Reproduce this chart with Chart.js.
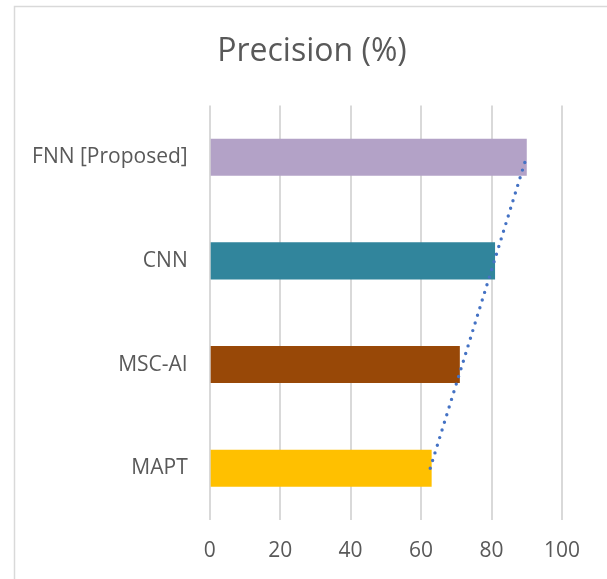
<!DOCTYPE html>
<html>
<head>
<meta charset="utf-8">
<script src="https://cdn.jsdelivr.net/npm/chart.js@4"></script>
<style>
  html, body { margin: 0; padding: 0; background: #fff; }
  canvas { display: block; }
</style>
</head>
<body>
<canvas id="precision-chart" width="607" height="579"></canvas>
<script>
const categories = ["FNN [Proposed]", "CNN", "MSC-AI", "MAPT"];
const precision = [90, 81, 71, 63];
const barColors = ["#b3a2c7", "#31859c", "#984807", "#ffc000"];
// linear trendline, ends (MAPT -> FNN)
const trendLabels = ["MAPT", "FNN [Proposed]"];
const trendValues = [62.6, 89.9];
const xTicks = [0, 20, 40, 60, 80, 100];

const frame = {
  id: "frame",
  beforeDraw(chart) {
    const ctx = chart.ctx;
    ctx.save();
    ctx.fillStyle = "#fff";
    ctx.fillRect(0, 0, chart.width, chart.height);
    ctx.strokeStyle = "#d9d9d9";
    ctx.lineWidth = 1.5;
    ctx.beginPath();
    ctx.moveTo(14.5, chart.height);
    ctx.lineTo(14.5, 6.5);
    ctx.lineTo(chart.width, 6.5);
    ctx.stroke();
    ctx.restore();
  },
};

Chart.defaults.font.family = "'Open Sans', sans-serif";
Chart.defaults.color = "#595959";

new Chart("precision-chart", {
  type: "bar",
  data: {
    labels: categories,
    datasets: [
      {
        type: "line",
        label: "Trend",
        data: trendLabels.map((c, i) => ({ x: trendValues[i], y: c })),
        borderColor: "#4472c4",
        borderWidth: 3.4,
        borderDash: [0, 8],
        borderCapStyle: "round",
        pointRadius: 0,
        fill: false,
        order: 0,
      },
      {
        label: "Precision (%)",
        data: precision,
        backgroundColor: barColors,
        barPercentage: 0.357,
        categoryPercentage: 1,
        order: 1,
      },
    ],
  },
  options: {
    indexAxis: "y",
    responsive: false,
    animation: false,
    layout: {
      // chart box runs past the right edge, so the title sits right of centre
      padding: { left: 17, right: 0, top: 0, bottom: 0 },
    },
    plugins: {
      legend: { display: false },
      tooltip: { enabled: false },
      title: {
        display: true,
        text: "Precision (%)",
        color: "#595959",
        font: { size: 32, weight: "normal" },
        padding: { top: 33, bottom: 34 },
      },
    },
    scales: {
      x: {
        min: 0,
        max: 100,
        afterBuildTicks: (scale) => {
          scale.ticks = xTicks.map((v) => ({ value: v }));
        },
        grid: { color: "#d9d9d9", lineWidth: 2, drawTicks: false },
        border: { display: false },
        ticks: { font: { size: 21 }, padding: 18 },
        afterFit: (scale) => {
          scale.height = 59;
        },
      },
      y: {
        grid: { display: false, drawTicks: false },
        border: { display: false },
        ticks: { font: { size: 21 }, padding: 22 },
        afterFit: (scale) => {
          scale.width = 209.7 - 17;
        },
      },
      // empty spacer on the right
      yRight: {
        type: "category",
        position: "right",
        grid: { display: false, drawTicks: false },
        border: { display: false },
        ticks: { display: false },
        afterFit: (scale) => {
          scale.width = 45;
        },
      },
    },
  },
  plugins: [frame],
});
</script>
</body>
</html>
